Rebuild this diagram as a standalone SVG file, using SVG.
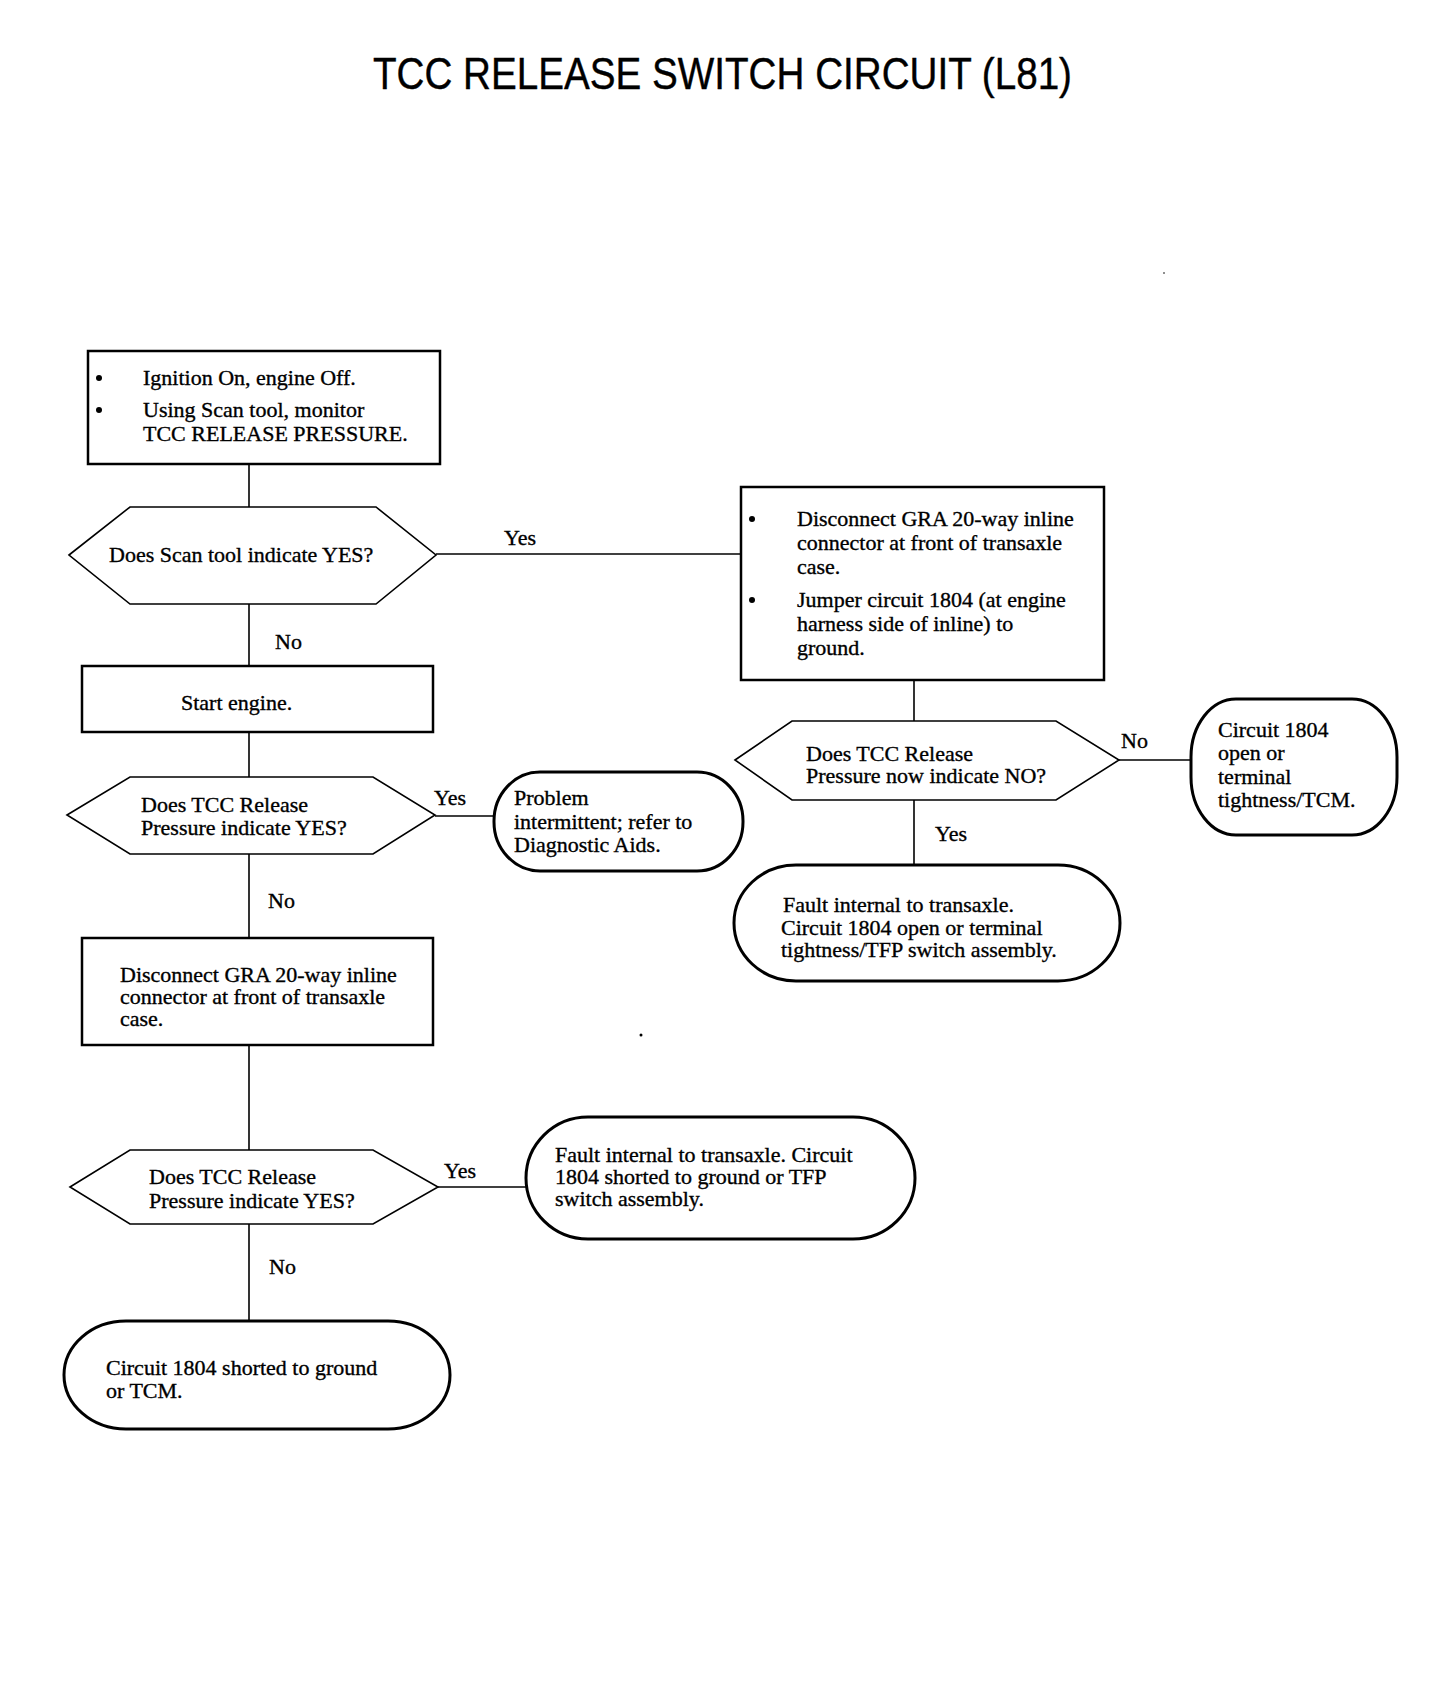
<svg xmlns="http://www.w3.org/2000/svg" width="1456" height="1690" viewBox="0 0 1456 1690">
<style>
.bg{fill:#fff}
.box{fill:#fff;stroke:#000;stroke-width:2.5}
.hex{fill:#fff;stroke:#000;stroke-width:1.6}
.term{fill:#fff;stroke:#000;stroke-width:3}
.wire{fill:none;stroke:#000;stroke-width:1.6}
.t{font-family:"Liberation Serif","Times New Roman",serif;font-size:22px;fill:#000;stroke:#000;stroke-width:0.35}
.title{font-family:"Liberation Sans",Arial,sans-serif;font-size:44px;fill:#000;stroke:#000;stroke-width:0.4}
</style>
<rect class="bg" x="0" y="0" width="1456" height="1690"/>
<text class="title" x="373" y="89" textLength="699" lengthAdjust="spacingAndGlyphs">TCC RELEASE SWITCH CIRCUIT (L81)</text>

<g id="connectors">
<line class="wire" x1="249" y1="464" x2="249" y2="507"/>
<line class="wire" x1="436" y1="554" x2="742" y2="554"/>
<line class="wire" x1="249" y1="604" x2="249" y2="666"/>
<line class="wire" x1="249" y1="732" x2="249" y2="777"/>
<line class="wire" x1="435" y1="816" x2="494" y2="816"/>
<line class="wire" x1="249" y1="854" x2="249" y2="938"/>
<line class="wire" x1="249" y1="1045" x2="249" y2="1150"/>
<line class="wire" x1="438" y1="1187" x2="526" y2="1187"/>
<line class="wire" x1="249" y1="1224" x2="249" y2="1321"/>
<line class="wire" x1="914" y1="680" x2="914" y2="721"/>
<line class="wire" x1="1119" y1="760" x2="1191" y2="760"/>
<line class="wire" x1="914" y1="800" x2="914" y2="865"/>
<text class="t" x="504" y="545">Yes</text>
<text class="t" x="275" y="649">No</text>
<text class="t" x="434" y="805">Yes</text>
<text class="t" x="268" y="908">No</text>
<text class="t" x="444" y="1178">Yes</text>
<text class="t" x="269" y="1274">No</text>
<text class="t" x="1121" y="748">No</text>
<text class="t" x="935" y="841">Yes</text>
</g>

<g id="box-ignition">
<rect class="box" x="88" y="351" width="352" height="113"/>
<circle cx="99" cy="378" r="3"/>
<circle cx="99" cy="410" r="3"/>
<text class="t" x="143" y="385">Ignition On, engine Off.</text>
<text class="t" x="143" y="417">Using Scan tool, monitor</text>
<text class="t" x="143" y="441">TCC RELEASE PRESSURE.</text>
</g>

<g id="dec-scan">
<polygon class="hex" points="69,555 130,507 376,507 436,555 376,604 130,604"/>
<text class="t" x="109" y="562">Does Scan tool indicate YES?</text>
</g>

<g id="box-jumper">
<rect class="box" x="741" y="487" width="363" height="193"/>
<circle cx="752" cy="519" r="3"/>
<circle cx="752" cy="600" r="3"/>
<text class="t" x="797" y="526">Disconnect GRA 20-way inline</text>
<text class="t" x="797" y="550">connector at front of transaxle</text>
<text class="t" x="797" y="574">case.</text>
<text class="t" x="797" y="607">Jumper circuit 1804 (at engine</text>
<text class="t" x="797" y="631">harness side of inline) to</text>
<text class="t" x="797" y="655">ground.</text>
</g>

<g id="dec-now-no">
<polygon class="hex" points="735,760 792,721 1056,721 1119,760 1056,800 792,800"/>
<text class="t" x="806" y="761">Does TCC Release</text>
<text class="t" x="806" y="783">Pressure now indicate NO?</text>
</g>

<g id="term-open">
<rect class="term" x="1191" y="699" width="206" height="136" rx="45" ry="58"/>
<text class="t" x="1218" y="737">Circuit 1804</text>
<text class="t" x="1218" y="760">open or</text>
<text class="t" x="1218" y="784">terminal</text>
<text class="t" x="1218" y="807">tightness/TCM.</text>
</g>

<g id="term-fault-open">
<rect class="term" x="734" y="865" width="386" height="116" rx="62" ry="58"/>
<text class="t" x="783" y="912">Fault internal to transaxle.</text>
<text class="t" x="781" y="935">Circuit 1804 open or terminal</text>
<text class="t" x="781" y="957">tightness/TFP switch assembly.</text>
</g>

<g id="box-start">
<rect class="box" x="82" y="666" width="351" height="66"/>
<text class="t" x="181" y="710">Start engine.</text>
</g>

<g id="dec-release-1">
<polygon class="hex" points="67,815 130,777 373,777 435,815 373,854 130,854"/>
<text class="t" x="141" y="812">Does TCC Release</text>
<text class="t" x="141" y="835">Pressure indicate YES?</text>
</g>

<g id="term-intermittent">
<rect class="term" x="494" y="772" width="249" height="99" rx="46" ry="49"/>
<text class="t" x="514" y="805">Problem</text>
<text class="t" x="514" y="829">intermittent; refer to</text>
<text class="t" x="514" y="852">Diagnostic Aids.</text>
</g>

<g id="box-disconnect">
<rect class="box" x="82" y="938" width="351" height="107"/>
<text class="t" x="120" y="982">Disconnect GRA 20-way inline</text>
<text class="t" x="120" y="1004">connector at front of transaxle</text>
<text class="t" x="120" y="1026">case.</text>
</g>

<g id="dec-release-2">
<polygon class="hex" points="70,1187 130,1150 373,1150 438,1187 373,1224 130,1224"/>
<text class="t" x="149" y="1184">Does TCC Release</text>
<text class="t" x="149" y="1208">Pressure indicate YES?</text>
</g>

<g id="term-fault-short">
<rect class="term" x="526" y="1117" width="389" height="122" rx="62" ry="61"/>
<text class="t" x="555" y="1162">Fault internal to transaxle. Circuit</text>
<text class="t" x="555" y="1184">1804 shorted to ground or TFP</text>
<text class="t" x="555" y="1206">switch assembly.</text>
</g>

<g id="term-short-tcm">
<rect class="term" x="64" y="1321" width="386" height="108" rx="62" ry="54"/>
<text class="t" x="106" y="1375">Circuit 1804 shorted to ground</text>
<text class="t" x="106" y="1398">or TCM.</text>
</g>

<circle cx="641" cy="1035" r="1.5"/>
<circle cx="1164" cy="273" r="0.8"/>
</svg>
